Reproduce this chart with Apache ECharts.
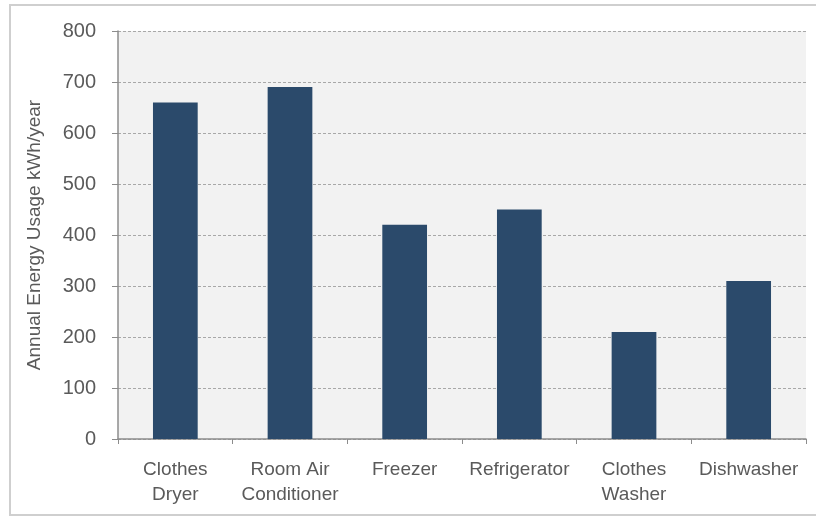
<!DOCTYPE html>
<html>
<head>
<meta charset="utf-8">
<script src="https://cdn.jsdelivr.net/npm/echarts@6/dist/echarts.min.js"></script>
<style>
  html, body { margin: 0; padding: 0; background: #ffffff; }
  #chart { width: 816px; height: 518px; }
</style>
</head>
<body>
<div id="chart"></div>
<script>
// Appliance categories and their annual energy use (kWh/year)
const categories = ['Clothes\nDryer', 'Room Air\nConditioner', 'Freezer', 'Refrigerator', 'Clothes\nWasher', 'Dishwasher'];
const usage = [660, 690, 420, 450, 210, 310];
const yTicks = { min: 0, max: 800, interval: 100 };

const FONT = '"Liberation Sans", Arial, sans-serif';
const TEXT = '#5a5a5a';
const AXIS = '#8c8c8c';

const chart = echarts.init(document.getElementById('chart'), null, { renderer: 'canvas' });

chart.setOption({
  backgroundColor: '#ffffff',
  animation: false,
  graphic: [{
    type: 'rect',
    silent: true,
    z: -10,
    shape: { x: 10, y: 5, width: 830, height: 510 },
    style: { fill: 'none', stroke: '#cfcfcf', lineWidth: 2 }
  }],
  grid: {
    left: 118, right: 10, top: 31, bottom: 79,
    show: true, backgroundColor: '#f2f2f2', borderWidth: 0
  },
  xAxis: {
    type: 'category',
    data: categories,
    axisLine: { show: true, lineStyle: { color: AXIS, width: 1.5 } },
    axisTick: { show: true, length: 5, lineStyle: { color: AXIS } },
    axisLabel: {
      color: TEXT, fontFamily: FONT, fontSize: 19, lineHeight: 25, margin: 18,
      interval: 0
    }
  },
  yAxis: {
    type: 'value',
    min: yTicks.min, max: yTicks.max, interval: yTicks.interval,
    name: 'Annual Energy Usage kWh/year',
    nameLocation: 'middle',
    nameGap: 74,
    nameRotate: 90,
    nameTextStyle: { color: TEXT, fontFamily: FONT, fontSize: 19 },
    axisLine: { show: true, lineStyle: { color: AXIS, width: 1.5 } },
    axisTick: { show: true, length: 6, lineStyle: { color: AXIS } },
    axisLabel: { color: TEXT, fontFamily: FONT, fontSize: 20, margin: 22 },
    splitLine: { show: true, lineStyle: { color: '#a8a8a8', type: [3, 2], width: 1 } }
  },
  series: [{
    type: 'bar',
    data: usage,
    barWidth: '39%',
    itemStyle: { color: '#2b4a6b' }
  }]
});
</script>
</body>
</html>
